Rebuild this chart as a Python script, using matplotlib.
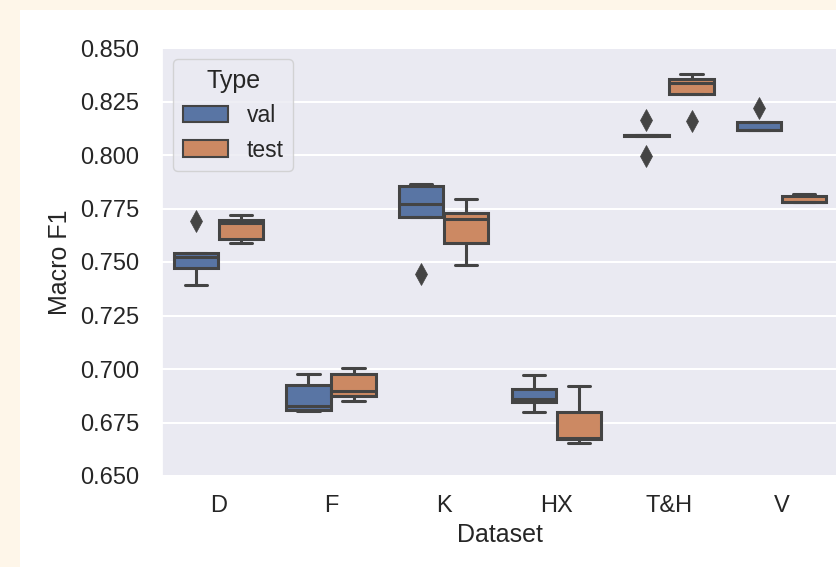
import matplotlib
matplotlib.use("Agg")
import matplotlib.pyplot as plt
from matplotlib.patches import Patch, Rectangle
import seaborn as sns

# five runs per dataset / split
datasets = ["D", "F", "K", "HX", "T&H", "V"]
types = ["val", "test"]

val_scores = [
    [0.7394, 0.7471, 0.7525, 0.7544, 0.7693],  # D
    [0.6802, 0.6810, 0.6825, 0.6923, 0.6977],  # F
    [0.7443, 0.7712, 0.7770, 0.7856, 0.7864],  # K
    [0.6797, 0.6844, 0.6861, 0.6906, 0.6972],  # HX
    [0.7996, 0.8090, 0.8092, 0.8094, 0.8164],  # T&H
    [0.8116, 0.8117, 0.8118, 0.8154, 0.8218],  # V
]
test_scores = [
    [0.7588, 0.7608, 0.7681, 0.7697, 0.7719],  # D
    [0.6849, 0.6873, 0.6898, 0.6977, 0.7005],  # F
    [0.7488, 0.7588, 0.7702, 0.7731, 0.7795],  # K
    [0.6652, 0.6675, 0.6677, 0.6799, 0.6919],  # HX
    [0.8159, 0.8284, 0.8338, 0.8355, 0.8377],  # T&H
    [0.7779, 0.7780, 0.7782, 0.7809, 0.7817],  # V
]
yticks = [0.650, 0.675, 0.700, 0.725, 0.750, 0.775, 0.800, 0.825, 0.850]

sns.set_theme(style="darkgrid", font_scale=1.5)
plt.rcParams["font.family"] = ["Liberation Sans", "DejaVu Sans"]

W, H = 836, 567
fig = plt.figure(figsize=(W / 100, H / 100), dpi=100, facecolor="#FEF6E9")
# white figure area inside the cream frame
fig.patches.append(Rectangle((20 / W, 0), 1, 1 - 10 / H, transform=fig.transFigure,
                             facecolor="white", edgecolor="none", zorder=-1))
ax = fig.add_axes([162 / W, (H - 476) / H, (838 - 162) / W, 428 / H])

gray = "#444444"
lw = 2.2
colors = [sns.desaturate(c, 0.75) for c in ["#4C72B0", "#DD8452"]]
width = 0.8 / 2 * 0.98

for k, (scores, col) in enumerate([(val_scores, colors[0]), (test_scores, colors[1])]):
    pos = [i - 0.2 + 0.4 * k for i in range(len(datasets))]
    ax.boxplot(scores, positions=pos, widths=width, patch_artist=True,
               boxprops=dict(facecolor=col, edgecolor=gray, linewidth=lw),
               medianprops=dict(color=gray, linewidth=lw),
               whiskerprops=dict(color=gray, linewidth=lw),
               capprops=dict(color=gray, linewidth=lw),
               flierprops=dict(marker="d", markerfacecolor=gray, markeredgecolor=gray,
                               markersize=11, markeredgewidth=0.5))

ax.set_xlim(-0.5, len(datasets) - 0.5)
ax.set_ylim(0.65, 0.85)
ax.set_xticks(range(len(datasets)))
ax.set_xticklabels(datasets)
ax.set_yticks(yticks)
ax.set_yticklabels([f"{t:.3f}" for t in yticks])
ax.xaxis.grid(False)
ax.yaxis.grid(True, color="white", linewidth=1.5)
ax.tick_params(axis="y", length=0, pad=16.5, labelsize=17, labelcolor="#262626")
ax.tick_params(axis="x", length=0, pad=14, labelsize=17, labelcolor="#262626")
ax.set_xlabel("Dataset", color="#262626", labelpad=4)
ax.set_ylabel("Macro F1", color="#262626", labelpad=5.5)

handles = [Patch(facecolor=c, edgecolor=gray, linewidth=1.5, label=t) for c, t in zip(colors, types)]
ax.legend(handles=handles, title="Type", loc="upper left")

fig.savefig("out.png", dpi=100, facecolor=fig.get_facecolor())
